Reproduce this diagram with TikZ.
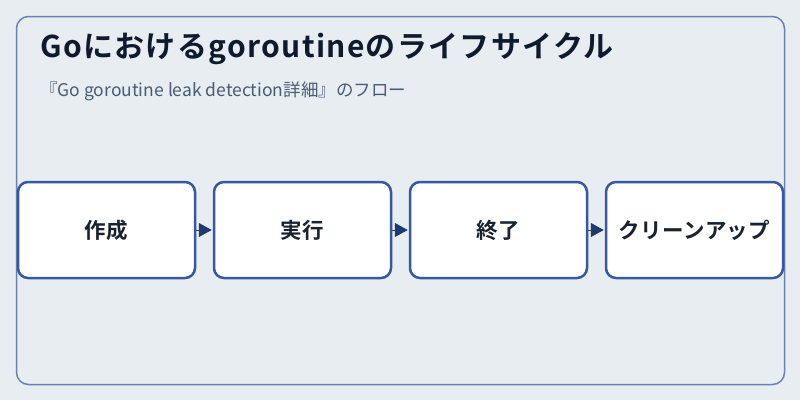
\documentclass[tikz,border=0pt]{standalone}
\usepackage{fontspec}
\setmainfont{Noto Sans CJK JP}[BoldFont={Noto Sans CJK JP Bold}]
\usetikzlibrary{arrows.meta}
\definecolor{bgc}{HTML}{E8EDF2}
\definecolor{framec}{HTML}{6A80B0}
\definecolor{boxc}{HTML}{3558A0}
\definecolor{arrc}{HTML}{1E3A6E}
\definecolor{titlec}{HTML}{0F1B2D}
\definecolor{subc}{HTML}{4A5B73}
\definecolor{textc}{HTML}{1A2230}
\tikzset{
  stepbox/.style={draw=boxc, line width=2.5pt, fill=white, rounded corners=10pt,
    minimum width=177pt, minimum height=96pt, inner sep=0pt,
    font=\fontsize{21.5}{24}\selectfont\bfseries\addfontfeature{LetterSpace=1.5}, text=textc},
  flowarrow/.style={draw=arrc, line width=1pt, -{Triangle[length=13pt,width=14pt]}, shorten >=1pt, color=arrc},
}
\begin{document}
\begin{tikzpicture}[x=1pt,y=-1pt]
\fill[bgc] (0,0) rectangle (800,400);
\useasboundingbox (0,0) rectangle (800,400);
\draw[framec, line width=1.5pt, rounded corners=12pt] (16.5,16.5) rectangle (784.5,384.5);
\node[anchor=base west, inner sep=0pt, text=titlec, font=\fontsize{30}{34}\selectfont\bfseries\addfontfeature{LetterSpace=4.5}] (title) at (40,57) {Goにおけるgoroutineのライフサイクル};
\node[anchor=base west, inner sep=0pt, text=subc, font=\fontsize{17.5}{20}\selectfont] (sub) at (40,96) {『Go goroutine leak detection詳細』のフロー};
\node[stepbox] (b1) at (106.5,230) {作成};
\node[stepbox] (b2) at (302.5,230) {実行};
\node[stepbox] (b3) at (498.5,230) {終了};
\node[stepbox] (b4) at (694.5,230) {クリーンアップ};
\draw[flowarrow] (b1) -- (b2);
\draw[flowarrow] (b2) -- (b3);
\draw[flowarrow] (b3) -- (b4);
\end{tikzpicture}
\end{document}
